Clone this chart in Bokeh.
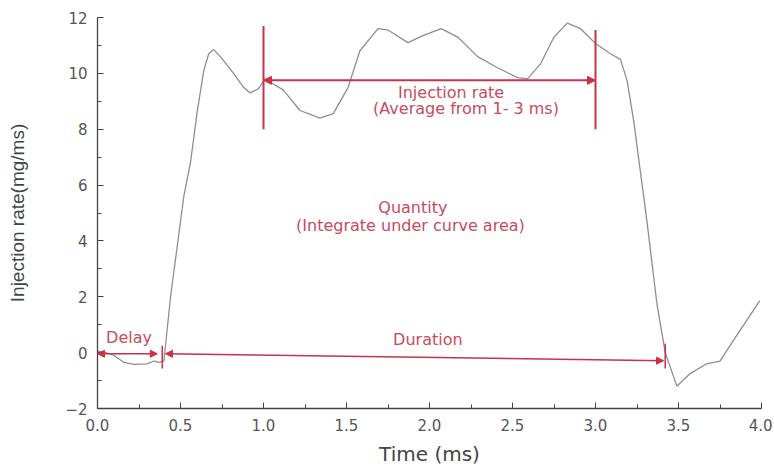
from bokeh.plotting import figure
from bokeh.models import (Range1d, FixedTicker, NumeralTickFormatter, Arrow,
                          NormalHead, ColumnDataSource)
from bokeh.core.properties import value
from bokeh.embed import file_html
from bokeh.resources import INLINE

# ---- data ----
time_ms = [0.00, 0.05, 0.10, 0.16, 0.22, 0.30, 0.34, 0.37, 0.40, 0.44, 0.48,
           0.52, 0.56, 0.60, 0.64, 0.67, 0.70, 0.74, 0.82, 0.88, 0.92, 0.97,
           1.01, 1.12, 1.22, 1.34, 1.42, 1.51, 1.58, 1.69, 1.75, 1.87, 1.96,
           2.07, 2.17, 2.29, 2.41, 2.53, 2.59, 2.67, 2.75, 2.83, 2.91, 3.00,
           3.09, 3.15, 3.19, 3.23, 3.31, 3.37, 3.42, 3.49, 3.57, 3.67, 3.75,
           3.83, 3.91, 3.99]
rate = [0.05, 0.0, -0.1, -0.35, -0.42, -0.4, -0.3, -0.35, -0.3, 2.0, 3.8,
        5.6, 6.8, 8.6, 10.1, 10.7, 10.85, 10.6, 10.0, 9.5, 9.3, 9.45,
        9.8, 9.4, 8.67, 8.4, 8.56, 9.5, 10.8, 11.6, 11.55, 11.1, 11.35,
        11.6, 11.3, 10.6, 10.2, 9.85, 9.8, 10.35, 11.3, 11.8, 11.6, 11.07,
        10.7, 10.5, 9.75, 8.3, 4.7, 1.75, 0.0, -1.2, -0.75, -0.4, -0.3,
        0.43, 1.15, 1.86]

x_ticks = [0.0, 0.5, 1.0, 1.5, 2.0, 2.5, 3.0, 3.5, 4.0]
x_minor = [0.25, 0.75, 1.25, 1.75, 2.25, 2.75, 3.25, 3.75]
y_ticks = [-2, 0, 2, 4, 6, 8, 10, 12]
y_minor = [-1, 1, 3, 5, 7, 9, 11]

# annotation values (data units)
avg_start, avg_end, avg_level = 1.0, 3.0, 9.75
avg_bar_low, avg_bar_high_left, avg_bar_high_right = 8.0, 11.7, 11.55
delay_end = 0.39
duration_end = 3.42

RED = "#c8324b"
TXT = "#c94a5e"
FONT = "DejaVu Sans"

p = figure(width=772, height=470, output_backend="svg", toolbar_location=None,
           x_range=Range1d(0, 4), y_range=Range1d(-2, 12),
           min_border_left=97, min_border_right=11, min_border_top=17,
           min_border_bottom=62)
p.outline_line_color = None
p.xgrid.visible = False
p.ygrid.visible = False
p.background_fill_color = "white"
p.border_fill_color = "white"

p.line(time_ms, rate, line_color="#8e8e8e", line_width=1.3)

# axes
for ax in (p.xaxis[0], p.yaxis[0]):
    ax.axis_line_color = "#444444"
    ax.axis_line_width = 1.3
    ax.major_tick_line_color = "#444444"
    ax.minor_tick_line_color = "#444444"
    ax.major_tick_in = 6
    ax.major_tick_out = 0
    ax.minor_tick_in = 4
    ax.minor_tick_out = 0
    ax.major_label_text_font = FONT
    ax.major_label_text_font_size = "15px"
    ax.major_label_text_color = "#555555"
    ax.axis_label_text_font_style = "normal"
    ax.axis_label_text_color = "#444444"

p.xaxis[0].ticker = FixedTicker(ticks=x_ticks, minor_ticks=x_minor)
p.xaxis[0].formatter = NumeralTickFormatter(format="0.0")
p.xaxis[0].axis_label = "Time (ms)"
p.xaxis[0].axis_label_text_font = FONT
p.xaxis[0].axis_label_text_font_size = "20px"
p.xaxis[0].major_label_standoff = 10
p.xaxis[0].axis_label_standoff = 8

p.yaxis[0].ticker = FixedTicker(ticks=y_ticks, minor_ticks=y_minor)
p.yaxis[0].axis_label = "Injection rate(mg/ms)"
p.yaxis[0].axis_label_text_font = "Liberation Sans"
p.yaxis[0].axis_label_text_font_size = "19px"
p.yaxis[0].major_label_standoff = 10
p.yaxis[0].axis_label_standoff = 34

# --- annotations ---
# vertical bars for averaging window
p.segment(x0=[avg_start, avg_end], y0=[avg_bar_low, avg_bar_low],
          x1=[avg_start, avg_end], y1=[avg_bar_high_left, avg_bar_high_right],
          line_color=RED, line_width=2)
p.add_layout(Arrow(x_start=avg_start, y_start=avg_level, x_end=avg_end, y_end=avg_level,
                   line_color=RED, line_width=2,
                   start=NormalHead(size=8, fill_color=RED, line_color=RED),
                   end=NormalHead(size=8, fill_color=RED, line_color=RED)))

# delay arrow
p.add_layout(Arrow(x_start=0.0, y_start=-0.04, x_end=delay_end - 0.03, y_end=-0.04,
                   line_color=RED, line_width=1.5,
                   start=NormalHead(size=7, fill_color=RED, line_color=RED),
                   end=NormalHead(size=7, fill_color=RED, line_color=RED)))
# duration arrow
p.add_layout(Arrow(x_start=delay_end + 0.02, y_start=-0.04, x_end=duration_end - 0.01, y_end=-0.29,
                   line_color=RED, line_width=1.5,
                   start=NormalHead(size=7, fill_color=RED, line_color=RED),
                   end=NormalHead(size=7, fill_color=RED, line_color=RED)))
# tick marks at delay end / duration end
p.segment(x0=[delay_end, duration_end], y0=[0.25, 0.32],
          x1=[delay_end, duration_end], y1=[-0.57, -0.57],
          line_color=RED, line_width=1.5)

labels = ColumnDataSource(dict(
    x=[2.13, 2.22, 1.90, 1.885, 0.19, 1.99],
    y=[9.32, 8.75, 5.2, 4.55, 0.54, 0.47],
    t=["Injection rate", "(Average from 1- 3 ms)", "Quantity",
       "(Integrate under curve area)", "Delay", "Duration"],
))
p.text(x="x", y="y", text="t", source=labels, text_align="center",
       text_baseline="middle", text_color=TXT, text_font=value(FONT),
       text_font_size="16px")

open("out.html", "w").write(file_html(p, INLINE))
